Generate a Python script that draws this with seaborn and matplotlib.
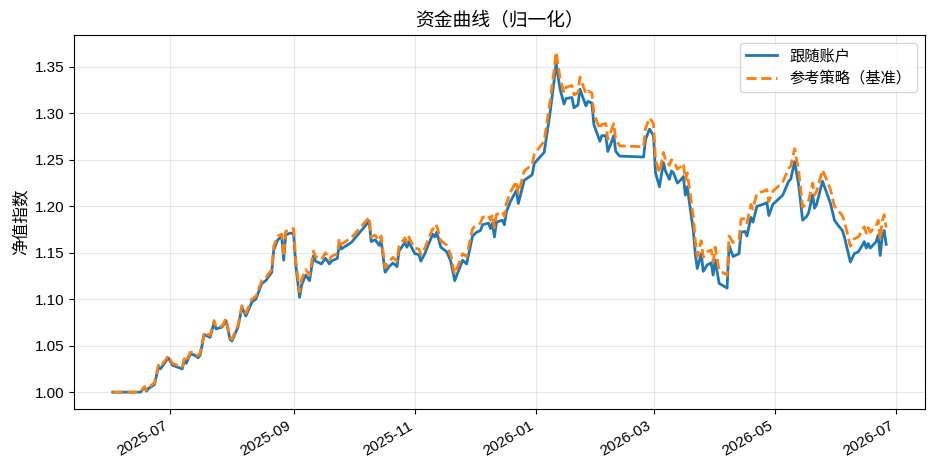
import pandas as pd
import seaborn as sns
import matplotlib.pyplot as plt
import matplotlib.dates as mdates

# Dates of the sampled points
dates = [
    "2025-06-02", "2025-06-16", "2025-06-18", "2025-06-19", "2025-06-20", "2025-06-23", "2025-06-25", "2025-06-26",
    "2025-06-30", "2025-07-02", "2025-07-07", "2025-07-08", "2025-07-09", "2025-07-11", "2025-07-13", "2025-07-15",
    "2025-07-16", "2025-07-18", "2025-07-21", "2025-07-23", "2025-07-24", "2025-07-27", "2025-07-29", "2025-07-31",
    "2025-08-01", "2025-08-04", "2025-08-06", "2025-08-08", "2025-08-11", "2025-08-13", "2025-08-16", "2025-08-18",
    "2025-08-21", "2025-08-22", "2025-08-24", "2025-08-26", "2025-08-27", "2025-08-28", "2025-08-30", "2025-09-01",
    "2025-09-02", "2025-09-04", "2025-09-05", "2025-09-07", "2025-09-09", "2025-09-11", "2025-09-12", "2025-09-15",
    "2025-09-17", "2025-09-19", "2025-09-20", "2025-09-23", "2025-09-24", "2025-09-25", "2025-09-27", "2025-09-30",
    "2025-10-09", "2025-10-10", "2025-10-12", "2025-10-14", "2025-10-15", "2025-10-17", "2025-10-19", "2025-10-21",
    "2025-10-23", "2025-10-24", "2025-10-27", "2025-10-28", "2025-10-29", "2025-10-30", "2025-11-01", "2025-11-03",
    "2025-11-04", "2025-11-06", "2025-11-08", "2025-11-10", "2025-11-11", "2025-11-12", "2025-11-14", "2025-11-17",
    "2025-11-19", "2025-11-21", "2025-11-23", "2025-11-25", "2025-11-27", "2025-11-30", "2025-12-02", "2025-12-04",
    "2025-12-05", "2025-12-08", "2025-12-09", "2025-12-10", "2025-12-11", "2025-12-12", "2025-12-15", "2025-12-16",
    "2025-12-17", "2025-12-19", "2025-12-21", "2025-12-22", "2025-12-23", "2025-12-26", "2025-12-30", "2025-12-31",
    "2026-01-05", "2026-01-08", "2026-01-10", "2026-01-11", "2026-01-13", "2026-01-15", "2026-01-16", "2026-01-19",
    "2026-01-20", "2026-01-22", "2026-01-23", "2026-01-26", "2026-01-27", "2026-01-29", "2026-01-30", "2026-02-02",
    "2026-02-03", "2026-02-05", "2026-02-06", "2026-02-08", "2026-02-09", "2026-02-10", "2026-02-12", "2026-02-24",
    "2026-02-25", "2026-02-27", "2026-03-01", "2026-03-02", "2026-03-04", "2026-03-06", "2026-03-07", "2026-03-09",
    "2026-03-10", "2026-03-11", "2026-03-13", "2026-03-15", "2026-03-16", "2026-03-17", "2026-03-18", "2026-03-19",
    "2026-03-21", "2026-03-22", "2026-03-23", "2026-03-25", "2026-03-26", "2026-03-28", "2026-03-30", "2026-03-31",
    "2026-04-01", "2026-04-03", "2026-04-07", "2026-04-08", "2026-04-10", "2026-04-13", "2026-04-14", "2026-04-16",
    "2026-04-17", "2026-04-19", "2026-04-20", "2026-04-22", "2026-04-25", "2026-04-27", "2026-04-28", "2026-04-30",
    "2026-05-05", "2026-05-06", "2026-05-08", "2026-05-09", "2026-05-11", "2026-05-13", "2026-05-15", "2026-05-17",
    "2026-05-18", "2026-05-20", "2026-05-21", "2026-05-22", "2026-05-25", "2026-05-26", "2026-05-29", "2026-05-31",
    "2026-06-02", "2026-06-04", "2026-06-05", "2026-06-08", "2026-06-10", "2026-06-12", "2026-06-14", "2026-06-15",
    "2026-06-16", "2026-06-17", "2026-06-18", "2026-06-21", "2026-06-22", "2026-06-23", "2026-06-24", "2026-06-25",
    "2026-06-26",
]

# Follower account (normalised)
follow = [
    1.000, 1.000, 1.005, 1.001, 1.004, 1.008, 1.027, 1.025,
    1.037, 1.029, 1.025, 1.034, 1.031, 1.041, 1.040, 1.037,
    1.040, 1.062, 1.059, 1.075, 1.068, 1.070, 1.077, 1.057,
    1.055, 1.070, 1.091, 1.082, 1.097, 1.100, 1.117, 1.120,
    1.129, 1.153, 1.164, 1.167, 1.142, 1.169, 1.171, 1.171,
    1.138, 1.102, 1.115, 1.126, 1.120, 1.147, 1.141, 1.138,
    1.144, 1.138, 1.141, 1.144, 1.160, 1.154, 1.157, 1.161,
    1.184, 1.162, 1.164, 1.158, 1.163, 1.129, 1.135, 1.139,
    1.135, 1.152, 1.161, 1.156, 1.162, 1.157, 1.149, 1.148,
    1.141, 1.149, 1.160, 1.170, 1.167, 1.172, 1.156, 1.151,
    1.141, 1.120, 1.131, 1.142, 1.138, 1.168, 1.172, 1.174,
    1.180, 1.182, 1.176, 1.182, 1.167, 1.183, 1.185, 1.180,
    1.194, 1.205, 1.213, 1.217, 1.203, 1.228, 1.234, 1.246,
    1.258, 1.301, 1.335, 1.354, 1.326, 1.310, 1.316, 1.317,
    1.306, 1.309, 1.326, 1.308, 1.313, 1.311, 1.288, 1.270,
    1.276, 1.276, 1.259, 1.270, 1.276, 1.259, 1.254, 1.253,
    1.272, 1.283, 1.276, 1.236, 1.221, 1.247, 1.238, 1.229,
    1.238, 1.236, 1.225, 1.229, 1.232, 1.212, 1.221, 1.205,
    1.174, 1.149, 1.133, 1.149, 1.130, 1.137, 1.139, 1.126,
    1.142, 1.117, 1.112, 1.158, 1.146, 1.149, 1.172, 1.173,
    1.168, 1.188, 1.183, 1.200, 1.202, 1.204, 1.190, 1.202,
    1.212, 1.217, 1.227, 1.229, 1.248, 1.223, 1.185, 1.189,
    1.193, 1.212, 1.198, 1.202, 1.227, 1.221, 1.203, 1.185,
    1.179, 1.174, 1.167, 1.140, 1.149, 1.151, 1.158, 1.162,
    1.155, 1.160, 1.155, 1.162, 1.169, 1.147, 1.167, 1.174,
    1.159,
]

# Reference strategy (benchmark)
bench = [
    1.000, 1.000, 1.006, 1.002, 1.005, 1.010, 1.029, 1.027,
    1.039, 1.031, 1.027, 1.036, 1.033, 1.043, 1.042, 1.039,
    1.042, 1.064, 1.061, 1.077, 1.070, 1.071, 1.079, 1.059,
    1.057, 1.072, 1.093, 1.085, 1.100, 1.103, 1.120, 1.123,
    1.132, 1.157, 1.168, 1.170, 1.146, 1.173, 1.175, 1.176,
    1.143, 1.108, 1.121, 1.132, 1.126, 1.152, 1.146, 1.143,
    1.150, 1.143, 1.146, 1.149, 1.165, 1.159, 1.162, 1.166,
    1.188, 1.167, 1.169, 1.163, 1.168, 1.134, 1.141, 1.145,
    1.141, 1.157, 1.166, 1.161, 1.167, 1.162, 1.155, 1.154,
    1.148, 1.155, 1.166, 1.176, 1.174, 1.179, 1.163, 1.158,
    1.148, 1.127, 1.138, 1.149, 1.146, 1.176, 1.180, 1.182,
    1.188, 1.190, 1.185, 1.191, 1.177, 1.191, 1.194, 1.189,
    1.203, 1.215, 1.223, 1.227, 1.214, 1.238, 1.245, 1.256,
    1.270, 1.313, 1.347, 1.366, 1.338, 1.322, 1.328, 1.330,
    1.320, 1.322, 1.339, 1.321, 1.324, 1.322, 1.300, 1.283,
    1.288, 1.289, 1.272, 1.283, 1.289, 1.272, 1.265, 1.264,
    1.284, 1.295, 1.289, 1.250, 1.236, 1.258, 1.250, 1.244,
    1.250, 1.249, 1.240, 1.243, 1.246, 1.228, 1.236, 1.220,
    1.189, 1.163, 1.146, 1.163, 1.145, 1.151, 1.153, 1.140,
    1.156, 1.131, 1.126, 1.168, 1.161, 1.164, 1.186, 1.187,
    1.182, 1.202, 1.197, 1.214, 1.216, 1.218, 1.205, 1.216,
    1.226, 1.231, 1.241, 1.243, 1.262, 1.238, 1.199, 1.203,
    1.206, 1.225, 1.212, 1.216, 1.239, 1.234, 1.218, 1.200,
    1.195, 1.190, 1.184, 1.157, 1.165, 1.167, 1.174, 1.178,
    1.171, 1.177, 1.172, 1.179, 1.185, 1.164, 1.184, 1.191,
    1.177,
]

df = pd.DataFrame({"date": pd.to_datetime(dates), "follow": follow, "bench": bench})

plt.rcParams['font.family'] = ['Liberation Sans', 'Noto Sans CJK SC']
plt.rcParams['axes.unicode_minus'] = False

fig, ax = plt.subplots(figsize=(9.37, 4.73), dpi=100)
fig.subplots_adjust(left=0.079, right=0.987, top=0.926, bottom=0.135)

sns.lineplot(data=df, x="date", y="follow", ax=ax, color="#1f77b4", linewidth=2, label="跟随账户")
sns.lineplot(data=df, x="date", y="bench", ax=ax, color="#ff7f0e", linewidth=2, linestyle="--", label="参考策略（基准）")

ax.set_title("资金曲线（归一化）", fontsize=13.5)
ax.set_xlabel("")
ax.set_ylabel("净值指数", fontsize=12)
ax.grid(True, alpha=0.3)
ax.tick_params(labelsize=11)

ax.xaxis.set_major_locator(mdates.MonthLocator(bymonth=[1, 3, 5, 7, 9, 11]))
ax.xaxis.set_major_formatter(mdates.DateFormatter("%Y-%m"))
plt.setp(ax.get_xticklabels(), rotation=30, ha="right")

ax.legend(loc="upper right", fontsize=11)

plt.savefig("out.png", dpi=100)
